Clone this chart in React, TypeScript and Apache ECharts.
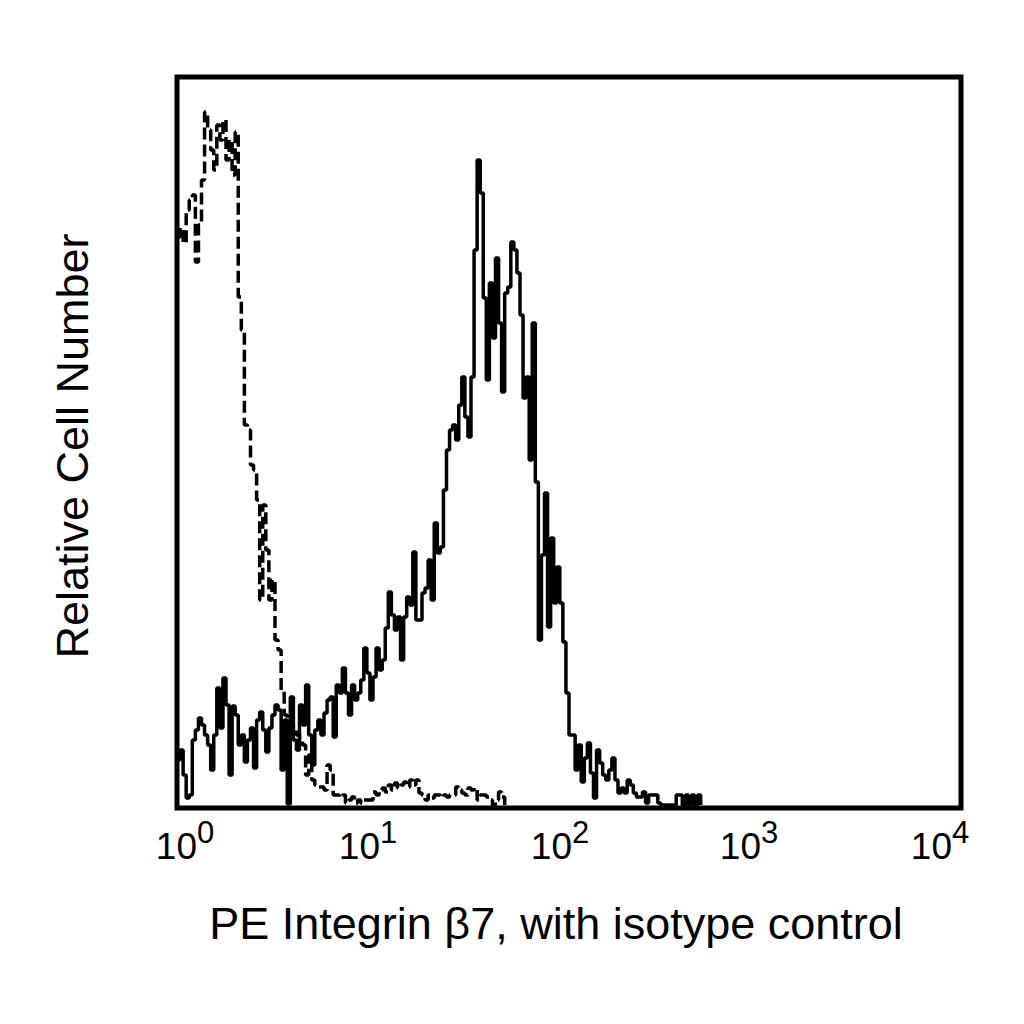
import { useEffect, useRef } from "react";
import * as echarts from "echarts";

// 256 channels over four log decades -> 64 channels per decade
const CHANNEL_MAX = 256;
const CHANNELS_PER_DECADE = 64;
const decadeLabels = ["0", "1", "2", "3", "4"];

// relative cell number per channel, starting at channel 0
const stainedCounts = [
  48, 58, 33, 10, 13, 68, 78, 90, 83, 73,
  63, 38, 73, 120, 80, 130, 103, 33, 102, 93,
  63, 73, 46, 68, 80, 40, 88, 96, 78, 56,
  80, 93, 103, 98, 38, 88, 4, 111, 68, 58,
  103, 83, 123, 73, 43, 78, 88, 73, 95, 108,
  111, 71, 123, 115, 140, 115, 93, 123, 108, 115,
  128, 160, 135, 108, 131, 160, 138, 148, 180, 216,
  193, 178, 191, 148, 191, 211, 203, 256, 188, 188,
  215, 220, 248, 208, 285, 255, 261, 318, 358, 378,
  383, 368, 403, 431, 391, 371, 431, 558, 648, 615,
  510, 428, 525, 470, 550, 485, 416, 515, 521, 566,
  558, 535, 493, 410, 431, 348, 485, 326, 168, 253,
  315, 181, 270, 205, 241, 205, 166, 115, 73, 73,
  38, 63, 26, 50, 65, 35, 10, 58, 45, 33,
  28, 38, 50, 28, 15, 20, 15, 28, 23, 15,
  11, 11, 16, 5, 13, 13, 13, 5, 3, 3,
  3, 3, 3, 13, 13, 3, 13, 3, 13, 3,
  13, 3,
];

const isotypeCounts = [
  571, 580, 565, 598, 608, 613, 546, 583, 628, 696,
  678, 658, 638, 683, 668, 688, 648, 668, 633, 676,
  511, 478, 383, 378, 343, 338, 308, 208, 303, 258,
  208, 228, 168, 158, 118, 93, 88, 83, 78, 73,
  68, 63, 33, 53, 28, 23, 21, 21, 18, 43,
  38, 13, 13, 11, 13, 5, 8, 11, 5, 8,
  5, 8, 8, 8, 16, 13, 18, 20, 16, 23,
  18, 25, 20, 23, 26, 21, 28, 23, 28, 15,
  13, 8, 13, 10, 13, 13, 11, 13, 11, 13,
  13, 21, 18, 15, 13, 20, 18, 20, 8, 13,
  13, 11, 8, 3, 8, 16, 11, 3,
];

const Y_MAX = 731;
const FONT = '"Liberation Sans", Arial, Helvetica, sans-serif';

// small horizontal nudge of each decade label (px), as in the original figure
const labelNudge = [8, -5, -9, -16, -21];

function buildRich() {
  const rich: Record<string, any> = {};
  labelNudge.forEach((n, k) => {
    // base "10": tall line box so its text sits lower than the exponent
    rich["b" + k] = {
      fontFamily: FONT,
      fontSize: 37,
      lineHeight: 58,
      color: "#000",
      padding: [0, 0, 0, n > 0 ? 2 * n : 0],
    };
    rich["s" + k] = {
      fontFamily: FONT,
      fontSize: 31,
      lineHeight: 30,
      color: "#000",
      verticalAlign: "top",
      padding: [0, n < 0 ? -2 * n : 0, 0, 0],
    };
  });
  return rich;
}

export default function App() {
  const ref = useRef<HTMLDivElement>(null);

  useEffect(() => {
    if (!ref.current) return;
    const chart = echarts.init(ref.current, undefined, { renderer: "svg" });

    chart.setOption({
      animation: false,
      backgroundColor: "#fff",
      grid: {
        left: 177,
        right: 63,
        top: 77,
        bottom: 216,
        show: true,
        borderColor: "#000",
        borderWidth: 5,
        backgroundColor: "transparent",
      },
      xAxis: {
        type: "value",
        min: 0,
        max: CHANNEL_MAX,
        interval: CHANNELS_PER_DECADE,
        axisLine: { show: false },
        axisTick: { show: false },
        splitLine: { show: false },
        axisLabel: {
          margin: 9,
          showMinLabel: true,
          showMaxLabel: true,
          formatter: (v: number) => {
            const k = Math.round(v / CHANNELS_PER_DECADE);
            return `{b${k}|10}{s${k}|${decadeLabels[k]}}`;
          },
          rich: buildRich(),
        },
      },
      yAxis: {
        type: "value",
        min: 0,
        max: Y_MAX,
        axisLine: { show: false },
        axisTick: { show: false },
        axisLabel: { show: false },
        splitLine: { show: false },
      },
      graphic: [
        {
          type: "text",
          x: 556,
          y: 923,
          style: {
            text: "PE Integrin β7, with isotype control",
            font: `45px ${FONT}`,
            fill: "#000",
            textAlign: "center",
            textVerticalAlign: "middle",
          },
        },
        {
          type: "text",
          x: 72,
          y: 446,
          rotation: Math.PI / 2,
          style: {
            text: "Relative Cell Number",
            font: `45px ${FONT}`,
            fill: "#000",
            textAlign: "center",
            textVerticalAlign: "middle",
          },
        },
      ],
      series: [
        {
          name: "PE Integrin β7",
          type: "line",
          step: "end",
          showSymbol: false,
          lineStyle: { color: "#000", width: 3.5 },
          data: stainedCounts.map((v, i) => [i, v]),
        },
        {
          name: "Isotype control",
          type: "line",
          step: "end",
          showSymbol: false,
          lineStyle: { color: "#000", width: 3.5, type: [12, 5] },
          data: isotypeCounts.map((v, i) => [i, v]),
        },
      ],
    });

    return () => chart.dispose();
  }, []);

  return (
    <div
      ref={ref}
      style={{
        position: "fixed",
        left: 0,
        top: 0,
        width: 1024,
        height: 1024,
        background: "#fff",
      }}
    />
  );
}
